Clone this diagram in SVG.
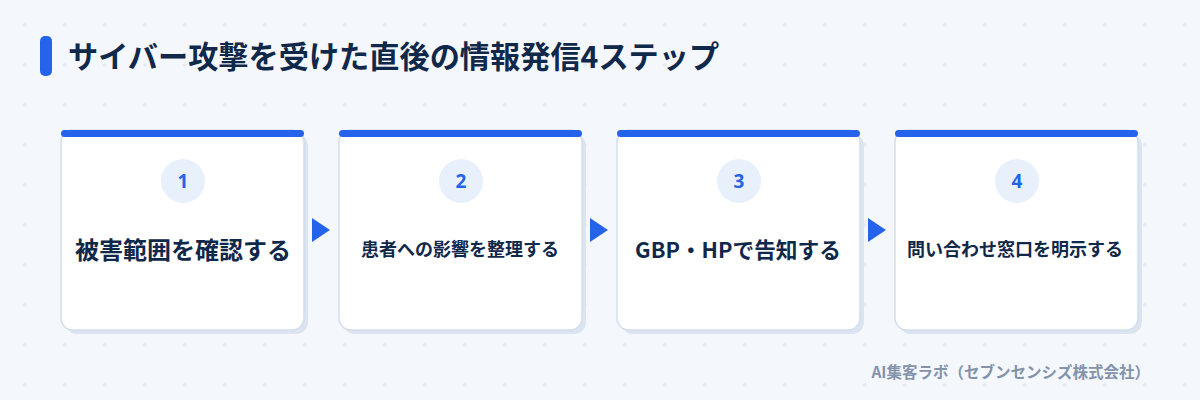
<svg xmlns="http://www.w3.org/2000/svg" width="1200" height="400" viewBox="0 0 1200 400">
<defs>
<pattern id="grid" x="0" y="0" width="40" height="40" patternUnits="userSpaceOnUse">
<path d="M25 23v4M23 25h4" stroke="#dfe6f0" stroke-width="1"/>
</pattern>
<style>
.shadow{fill:#dbe4f0}
.card{fill:#ffffff;stroke:#d3deec;stroke-width:1.5}
.bar{fill:#2563eb}
.badge{fill:#e8f0fc}
.num{font-family:"Noto Sans","Noto Sans CJK JP",sans-serif;font-weight:700;font-size:19px;fill:#2563eb;text-anchor:middle}
.lbl{font-family:"Noto Sans CJK JP",sans-serif;font-weight:700;fill:#10284a;text-anchor:middle}
.arrow{fill:#2563eb}
</style>
</defs>
<rect width="1200" height="400" fill="#f4f7fc"/>
<rect width="1200" height="400" fill="url(#grid)"/>
<g id="title">
<rect x="40" y="36" width="12" height="40" rx="5" fill="#2563eb"/>
<text x="68" y="68" font-family="Noto Sans CJK JP,sans-serif" font-weight="700" font-size="30.2" fill="#10284a">サイバー攻撃を受けた直後の情報発信4ステップ</text>
</g>
<g id="connectors">
<polygon class="arrow" points="312,218 330,230 312,242"/>
<polygon class="arrow" points="590,218 608,230 590,242"/>
<polygon class="arrow" points="868,218 886,230 868,242"/>
</g>
<g id="step1">
<rect class="shadow" x="65" y="134" width="243" height="200" rx="12"/>
<rect class="card" x="61" y="130" width="243" height="200" rx="12"/>
<rect class="bar" x="61" y="130" width="243" height="7" rx="3.5"/>
<circle class="badge" cx="183" cy="181" r="22"/>
<text class="num" x="183" y="188">1</text>
<text class="lbl" x="183" y="259" font-size="24">被害範囲を確認する</text>
</g>
<g id="step2">
<rect class="shadow" x="343" y="134" width="243" height="200" rx="12"/>
<rect class="card" x="339" y="130" width="243" height="200" rx="12"/>
<rect class="bar" x="339" y="130" width="243" height="7" rx="3.5"/>
<circle class="badge" cx="461" cy="181" r="22"/>
<text class="num" x="461" y="188">2</text>
<text class="lbl" x="460" y="256" font-size="18">患者への影響を整理する</text>
</g>
<g id="step3">
<rect class="shadow" x="621" y="134" width="243" height="200" rx="12"/>
<rect class="card" x="617" y="130" width="243" height="200" rx="12"/>
<rect class="bar" x="617" y="130" width="243" height="7" rx="3.5"/>
<circle class="badge" cx="739" cy="181" r="22"/>
<text class="num" x="739" y="188">3</text>
<text class="lbl" x="738" y="258" font-size="21.7">GBP・HPで告知する</text>
</g>
<g id="step4">
<rect class="shadow" x="899" y="134" width="243" height="200" rx="12"/>
<rect class="card" x="895" y="130" width="243" height="200" rx="12"/>
<rect class="bar" x="895" y="130" width="243" height="7" rx="3.5"/>
<circle class="badge" cx="1017" cy="181" r="22"/>
<text class="num" x="1017" y="188">4</text>
<text class="lbl" x="1015" y="256" font-size="18">問い合わせ窓口を明示する</text>
</g>
<text x="1150" y="378" text-anchor="end" font-family="Noto Sans CJK JP,sans-serif" font-weight="700" font-size="15.5" fill="#8393ab">AI集客ラボ（セブンセンシズ株式会社）</text>
</svg>
